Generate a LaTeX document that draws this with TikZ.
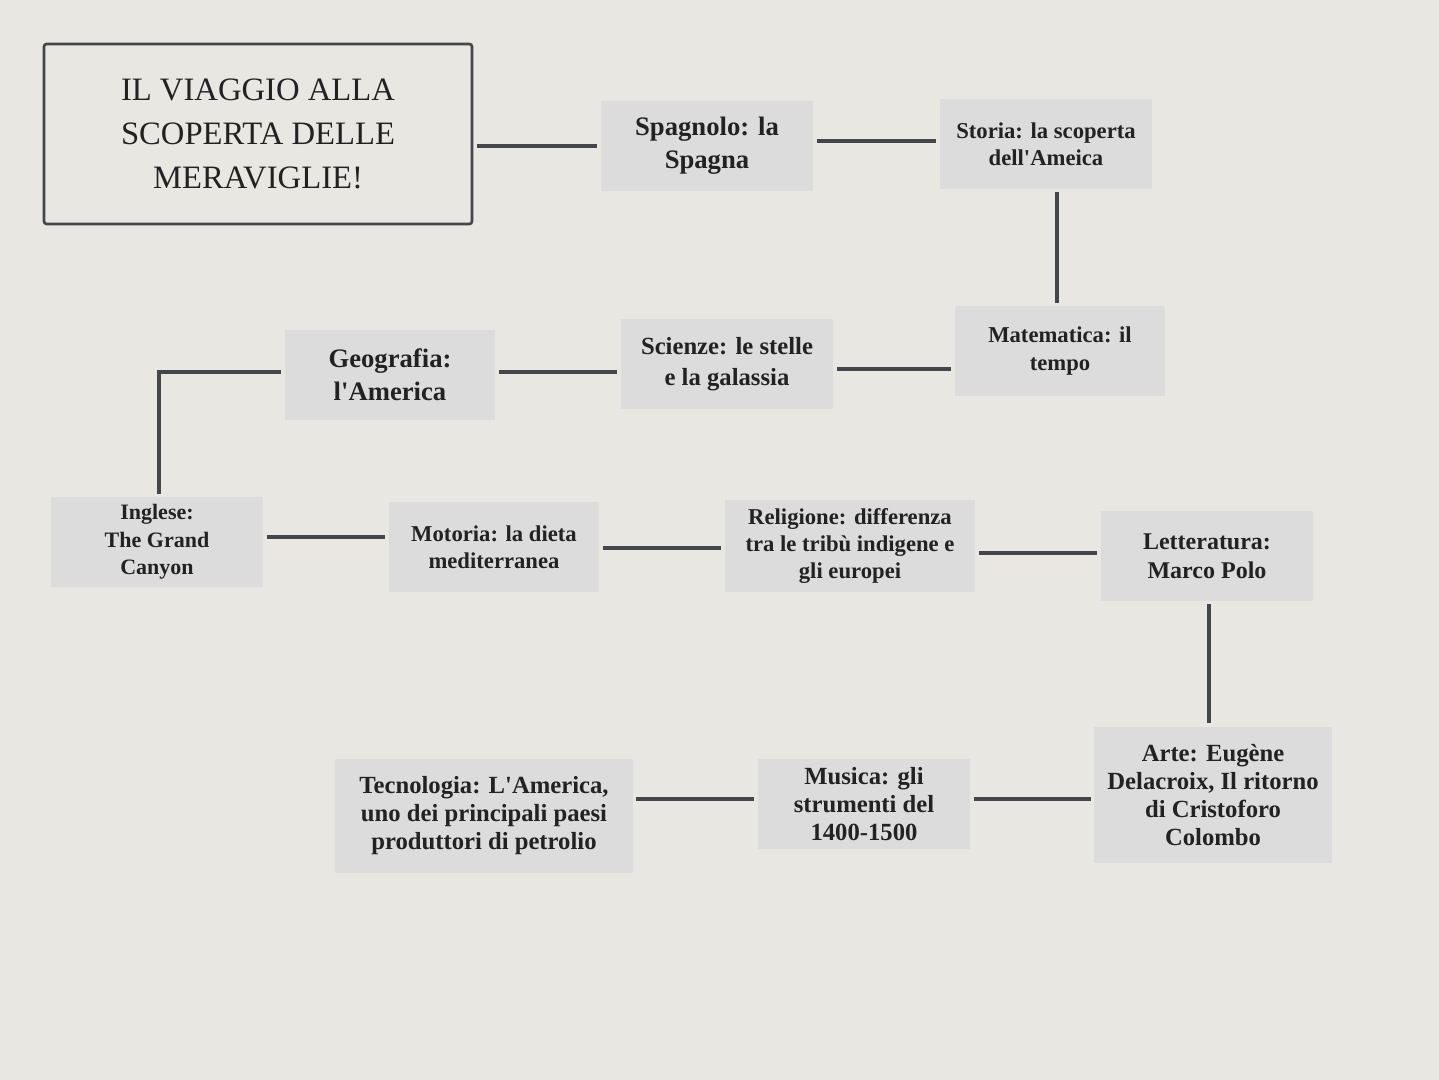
\documentclass[tikz,border=0pt]{standalone}
\usepackage{fontspec}
\setmainfont{Liberation Serif}
\newcommand{\ap}{\textquotesingle}
\begin{document}
\begin{tikzpicture}[x=0.75pt,y=-0.75pt,
  box/.style={fill=boxc, align=center, font=\bfseries\fontsize{17}{20.5}\selectfont, inner sep=0pt, text=txt},
  link/.style={draw=linec, line width=3pt, shorten >=2.5pt, shorten <=2.5pt}]
\definecolor{bg}{HTML}{E8E7E2}
\definecolor{boxc}{HTML}{DCDCDC}
\definecolor{linec}{HTML}{43464B}
\definecolor{txt}{HTML}{222222}
\fill[bg] (0,0) rectangle (1439,1080);
\useasboundingbox (0,0) rectangle (1439,1080);
\node[draw=linec, line width=2pt, rounded corners=2pt, minimum width=321pt, minimum height=135pt, align=center, font=\fontsize{24.5}{33}\selectfont, text=txt] (t) at (258,134) {IL VIAGGIO ALLA\\SCOPERTA DELLE\\MERAVIGLIE!};
\node[box, minimum width=159pt, minimum height=67pt, font=\bfseries\fontsize{20}{25}\selectfont] (sp) at (707,146) {Spagnolo: la\\Spagna};
\node[box, minimum width=159pt, minimum height=67pt] (st) at (1046,144) {Storia: la scoperta\\dell\ap Ameica};
\node[box, minimum width=158pt, minimum height=67pt] (ma) at (1060,351) {Matematica: il\\tempo};
\node[box, minimum width=159pt, minimum height=67pt, font=\bfseries\fontsize{18.5}{23}\selectfont] (sc) at (727,364) {Scienze: le stelle\\e la galassia};
\node[box, minimum width=158pt, minimum height=67pt, font=\bfseries\fontsize{20}{25}\selectfont] (ge) at (390,375) {Geografia:\\l\ap America};
\node[box, minimum width=159pt, minimum height=67pt, font=\bfseries\fontsize{16.5}{20.5}\selectfont] (in) at (157,542) {Inglese:\\The Grand\\Canyon};
\node[box, minimum width=158pt, minimum height=67pt] (mo) at (494,547) {Motoria: la dieta\\mediterranea};
\node[box, minimum width=188pt, minimum height=69pt] (re) at (850,546) {Religione: differenza\\tra le tribù indigene e\\gli europei};
\node[box, minimum width=159pt, minimum height=67pt, font=\bfseries\fontsize{18}{22}\selectfont] (le) at (1207,556) {Letteratura:\\Marco Polo};
\node[box, minimum width=178pt, minimum height=102pt, font=\bfseries\fontsize{18.5}{21}\selectfont] (ar) at (1213,795) {Arte: Eugène\\Delacroix, Il ritorno\\di Cristoforo\\Colombo};
\node[box, minimum width=159pt, minimum height=67pt, font=\bfseries\fontsize{18.5}{21}\selectfont] (mu) at (864,804) {Musica: gli\\strumenti del\\1400-1500};
\node[box, minimum width=223pt, minimum height=85pt, font=\bfseries\fontsize{18.5}{21}\selectfont] (te) at (484,816) {Tecnologia: L\ap America,\\uno dei principali paesi\\produttori di petrolio};
\draw[link] (t.east |- 0,146) -- (sp.west |- 0,146);
\draw[link] (sp.east |- 0,141) -- (st.west |- 0,141);
\draw[link] (st.south -| 1057,0) -- (ma.north -| 1057,0);
\draw[link] (ma.west |- 0,369) -- (sc.east |- 0,369);
\draw[link] (sc.west |- 0,372) -- (ge.east |- 0,372);
\draw[link, line join=miter] (ge.west |- 0,372) -- (159,372) -- (in.north -| 159,0);
\draw[link] (in.east |- 0,537) -- (mo.west |- 0,537);
\draw[link] (mo.east |- 0,548) -- (re.west |- 0,548);
\draw[link] (re.east |- 0,553) -- (le.west |- 0,553);
\draw[link] (le.south -| 1209,0) -- (ar.north -| 1209,0);
\draw[link] (ar.west |- 0,799) -- (mu.east |- 0,799);
\draw[link] (mu.west |- 0,799) -- (te.east |- 0,799);
\end{tikzpicture}
\end{document}
